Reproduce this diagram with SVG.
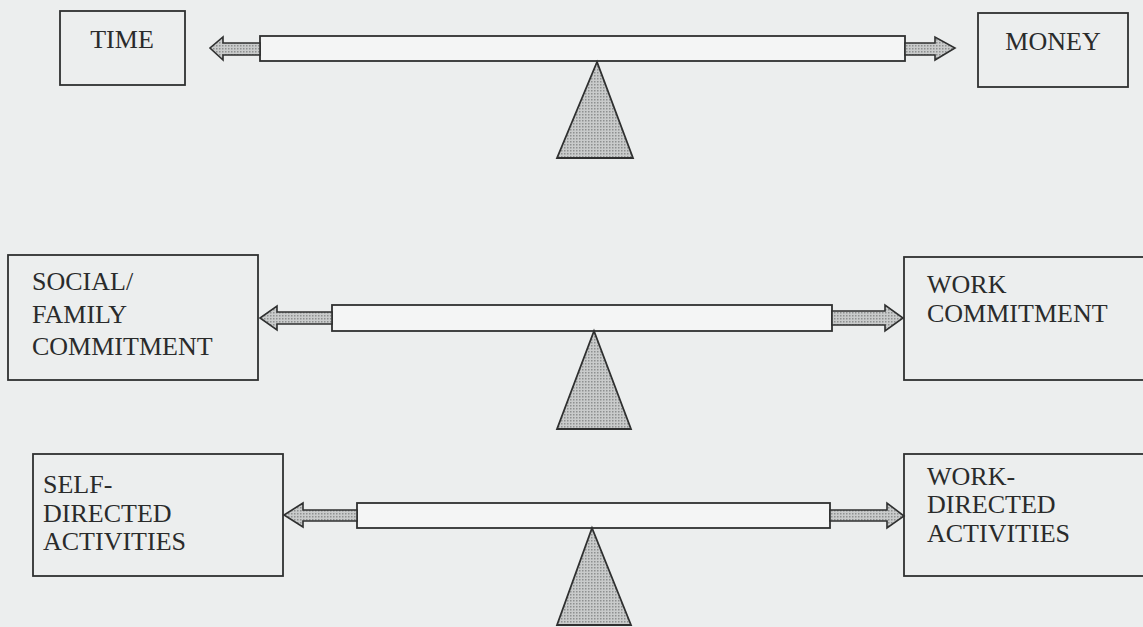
<svg xmlns="http://www.w3.org/2000/svg" width="1143" height="627" viewBox="0 0 1143 627">
<defs>
<pattern id="dots" width="3" height="3" patternUnits="userSpaceOnUse">
<rect width="3" height="3" fill="#c9cbcb"/>
<rect width="1.5" height="1.5" fill="#8e9090"/>
</pattern>
<style>
.box{fill:none;stroke:#2f3030;stroke-width:1.8}
.bar{fill:#f4f5f5;stroke:#2f3030;stroke-width:1.8}
.arr{fill:url(#dots);stroke:#2f3030;stroke-width:1.6;stroke-linejoin:miter}
.tri{fill:url(#dots);stroke:#2f3030;stroke-width:1.8}
.lbl{font-family:"Liberation Serif","Times New Roman",serif;font-size:26px;fill:#2a2b2b}
</style>
</defs>
<rect width="1143" height="627" fill="#eceeee"/>

<g id="connectors">
<!-- row 1 -->
<rect class="bar" x="260" y="36" width="645" height="25"/>
<polygon class="arr" points="260,43 223,43 223,37 210,48 223,60 223,55 260,55"/>
<polygon class="arr" points="905,43 935,43 935,37 955,48 935,60 935,55 905,55"/>
<polygon class="tri" points="597,62 557,158 633,158"/>
<!-- row 2 -->
<rect class="bar" x="332" y="305" width="500" height="26"/>
<polygon class="arr" points="332,312 277,312 277,306 260,318 277,330 277,324 332,324"/>
<polygon class="arr" points="832,311 885,311 885,305 903,318 885,331 885,325 832,325"/>
<polygon class="tri" points="594,331 557,429 631,429"/>
<!-- row 3 -->
<rect class="bar" x="357" y="503" width="473" height="25"/>
<polygon class="arr" points="357,510 303,510 303,503 284,515 303,527 303,521 357,521"/>
<polygon class="arr" points="830,510 887,510 887,503 904,516 887,528 887,521 830,521"/>
<polygon class="tri" points="592,528 557,625 631,625"/>
</g>

<g id="time">
<rect class="box" x="60" y="11" width="125" height="74"/>
<text class="lbl" x="122" y="48" text-anchor="middle">TIME</text>
</g>
<g id="money">
<rect class="box" x="978" y="13" width="150" height="74"/>
<text class="lbl" x="1053" y="50" text-anchor="middle">MONEY</text>
</g>
<g id="social-family">
<rect class="box" x="8" y="255" width="250" height="125"/>
<text class="lbl" x="32" y="290">SOCIAL/</text>
<text class="lbl" x="32" y="323">FAMILY</text>
<text class="lbl" x="32" y="355">COMMITMENT</text>
</g>
<g id="work-commitment">
<rect class="box" x="904" y="257" width="250" height="123"/>
<text class="lbl" x="927" y="293">WORK</text>
<text class="lbl" x="927" y="322">COMMITMENT</text>
</g>
<g id="self-directed">
<rect class="box" x="33" y="454" width="250" height="122"/>
<text class="lbl" x="43" y="493">SELF-</text>
<text class="lbl" x="43" y="522">DIRECTED</text>
<text class="lbl" x="43" y="550">ACTIVITIES</text>
</g>
<g id="work-directed">
<rect class="box" x="904" y="454" width="250" height="122"/>
<text class="lbl" x="927" y="485">WORK-</text>
<text class="lbl" x="927" y="513">DIRECTED</text>
<text class="lbl" x="927" y="542">ACTIVITIES</text>
</g>
</svg>
